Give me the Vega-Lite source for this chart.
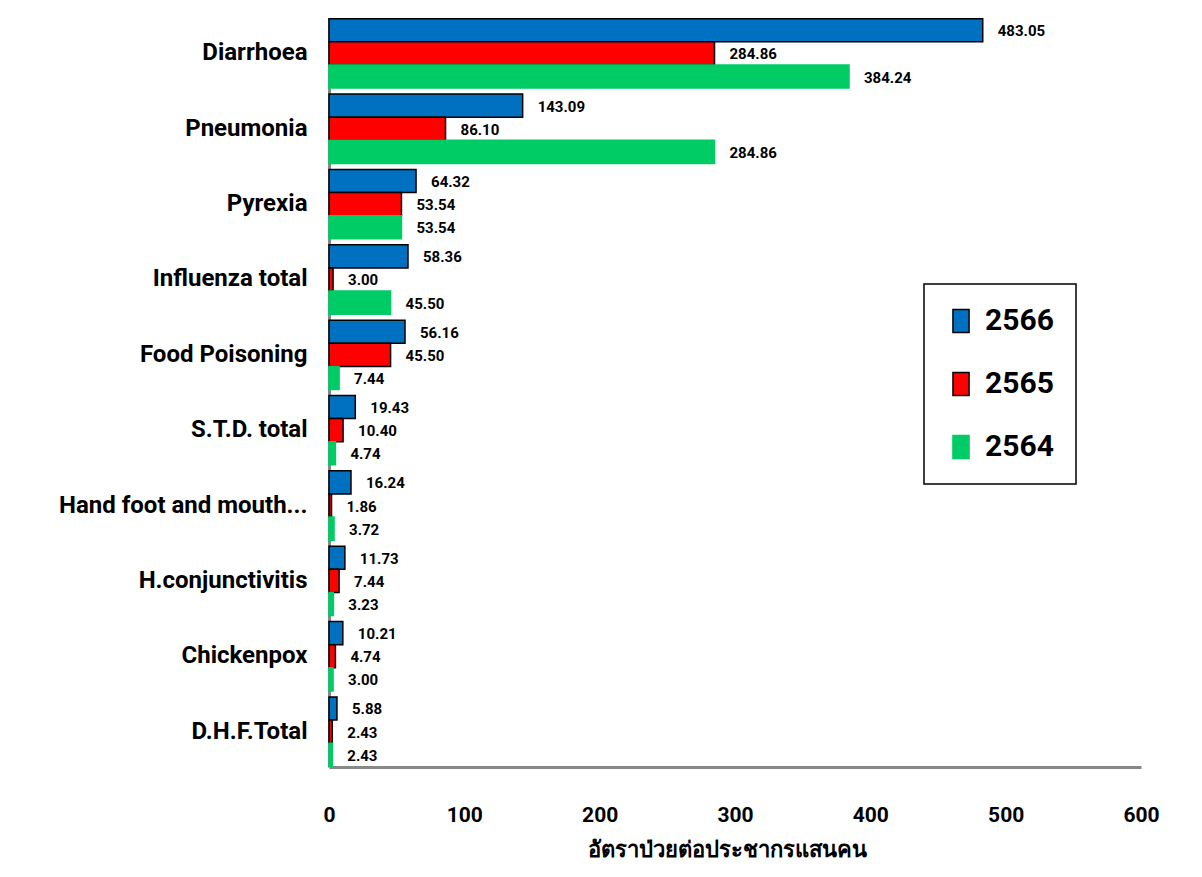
{
  "$schema": "https://vega.github.io/schema/vega-lite/v6.json",
  "autosize": "none",
  "width": 812,
  "height": 749,
  "padding": {"left": 329, "top": 18, "right": 61, "bottom": 110},
  "background": "white",
  "config": {"view": {"stroke": null}, "font": "Roboto"},
  "data": {"values": [
    {"disease": "Diarrhoea", "year": "2566", "rate": 483.05},
    {"disease": "Diarrhoea", "year": "2565", "rate": 284.86},
    {"disease": "Diarrhoea", "year": "2564", "rate": 384.24},
    {"disease": "Pneumonia", "year": "2566", "rate": 143.09},
    {"disease": "Pneumonia", "year": "2565", "rate": 86.10},
    {"disease": "Pneumonia", "year": "2564", "rate": 284.86},
    {"disease": "Pyrexia", "year": "2566", "rate": 64.32},
    {"disease": "Pyrexia", "year": "2565", "rate": 53.54},
    {"disease": "Pyrexia", "year": "2564", "rate": 53.54},
    {"disease": "Influenza total", "year": "2566", "rate": 58.36},
    {"disease": "Influenza total", "year": "2565", "rate": 3.00},
    {"disease": "Influenza total", "year": "2564", "rate": 45.50},
    {"disease": "Food Poisoning", "year": "2566", "rate": 56.16},
    {"disease": "Food Poisoning", "year": "2565", "rate": 45.50},
    {"disease": "Food Poisoning", "year": "2564", "rate": 7.44},
    {"disease": "S.T.D. total", "year": "2566", "rate": 19.43},
    {"disease": "S.T.D. total", "year": "2565", "rate": 10.40},
    {"disease": "S.T.D. total", "year": "2564", "rate": 4.74},
    {"disease": "Hand foot and mouth...", "year": "2566", "rate": 16.24},
    {"disease": "Hand foot and mouth...", "year": "2565", "rate": 1.86},
    {"disease": "Hand foot and mouth...", "year": "2564", "rate": 3.72},
    {"disease": "H.conjunctivitis", "year": "2566", "rate": 11.73},
    {"disease": "H.conjunctivitis", "year": "2565", "rate": 7.44},
    {"disease": "H.conjunctivitis", "year": "2564", "rate": 3.23},
    {"disease": "Chickenpox", "year": "2566", "rate": 10.21},
    {"disease": "Chickenpox", "year": "2565", "rate": 4.74},
    {"disease": "Chickenpox", "year": "2564", "rate": 3.00},
    {"disease": "D.H.F.Total", "year": "2566", "rate": 5.88},
    {"disease": "D.H.F.Total", "year": "2565", "rate": 2.43},
    {"disease": "D.H.F.Total", "year": "2564", "rate": 2.43}
  ]},
  "encoding": {
    "y": {
      "field": "disease", "type": "nominal", "sort": null,
      "scale": {"paddingInner": 0.08, "paddingOuter": 0.01},
      "axis": {
        "title": null, "ticks": false, "domainColor": "#888888", "domainWidth": 3,
        "labelFontSize": 24, "labelFontWeight": "bold", "labelColor": "black",
        "labelPadding": 22, "labelLimit": 320
      }
    },
    "yOffset": {"field": "year", "type": "nominal", "sort": ["2566", "2565", "2564"]},
    "x": {
      "field": "rate", "type": "quantitative",
      "scale": {"domain": [0, 600], "nice": false},
      "axis": {
        "values": [0, 100, 200, 300, 400, 500, 600],
        "title": "อัตราป่วยต่อประชากรแสนคน", "titleFontSize": 22, "titleFontWeight": "bold",
        "titleColor": "black", "titlePadding": 14, "titleX": 398,
        "grid": false, "ticks": false, "tickSize": 0, "domainColor": "#888888", "domainWidth": 3,
        "labelFontSize": 21, "labelFontWeight": "bold", "labelColor": "black",
        "labelPadding": 37, "labelFlush": false
      }
    }
  },
  "layer": [
    {
      "mark": {"type": "bar", "strokeWidth": 1.5},
      "encoding": {
        "fill": {
          "field": "year", "type": "nominal",
          "scale": {"domain": ["2566", "2565", "2564"], "range": ["#0070C0", "#FF0000", "#00CC66"]},
          "legend": {
            "title": null, "orient": "none", "legendX": 595, "legendY": 266,
            "strokeColor": "black", "padding": 22,
            "labelFontSize": 30, "labelFontWeight": "bold", "labelColor": "black",
            "symbolType": "M-0.7,-1L0.7,-1L0.7,1L-0.7,1Z", "symbolSize": 529,
            "symbolStrokeWidth": 1.5, "rowPadding": 33, "labelOffset": 9,
            "encode": {"legend": {"update": {"strokeWidth": {"value": 1.5}}}}
          }
        },
        "stroke": {
          "field": "year", "type": "nominal",
          "scale": {"domain": ["2566", "2565", "2564"], "range": ["black", "black", "#00CC66"]},
          "legend": {
            "title": null, "orient": "none", "legendX": 595, "legendY": 266,
            "strokeColor": "black", "padding": 22,
            "labelFontSize": 30, "labelFontWeight": "bold", "labelColor": "black",
            "symbolType": "M-0.7,-1L0.7,-1L0.7,1L-0.7,1Z", "symbolSize": 529,
            "symbolStrokeWidth": 1.5, "rowPadding": 33, "labelOffset": 9,
            "encode": {"legend": {"update": {"strokeWidth": {"value": 1.5}}}}
          }
        }
      }
    },
    {
      "mark": {"type": "text", "align": "left", "baseline": "middle", "dx": 15, "dy": 1, "fontSize": 15, "fontWeight": "bold", "color": "black"},
      "encoding": {
        "text": {"field": "rate", "type": "quantitative", "format": ".2f"}
      }
    }
  ]
}
